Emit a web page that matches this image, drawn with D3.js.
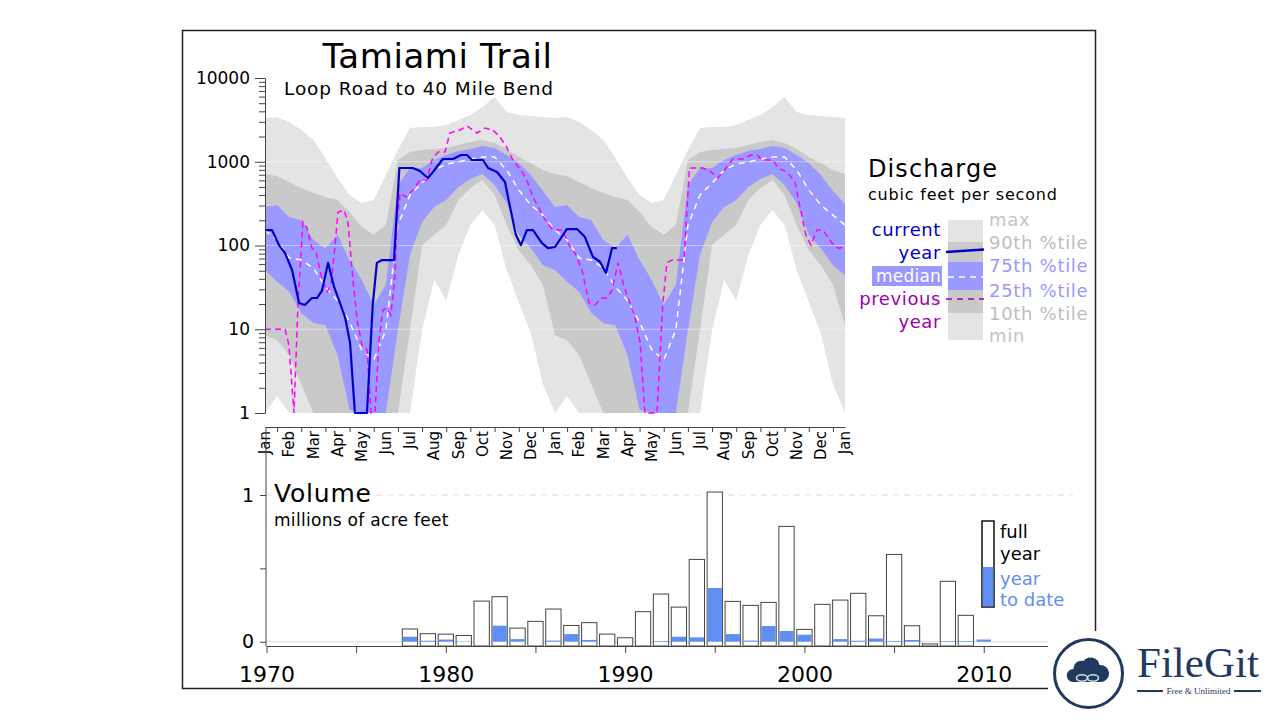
<!DOCTYPE html>
<html><head><meta charset="utf-8">
<script src="https://cdn.jsdelivr.net/npm/d3@7"></script>
<style>
html,body{margin:0;padding:0;background:#fff;}
</style></head>
<body><svg id="c" width="1280" height="720" font-family="DejaVu Sans, Verdana, sans-serif"></svg>
<script>
// ---------------- DATA ----------------
const monthLabels = ["Jan","Feb","Mar","Apr","May","Jun","Jul","Aug","Sep","Oct","Nov","Dec",
                     "Jan","Feb","Mar","Apr","May","Jun","Jul","Aug","Sep","Oct","Nov","Dec","Jan"];
// daily-flow statistics at half-month steps through one year (cfs); the chart repeats them for both years
const climMax    = [3330,3420,2980,2390,1820,1110,640,401,322,349,695,1380,2530,2600,2600,2750,3150,3615,4505,5930,3930,3615,3520,3420,3330];
const climP90    = [714,676,573,486,424,379,349,251,166,134,176,1049,1308,1382,1420,1460,1585,1721,1818,1675,1420,1140,966,797,714];
const climP75    = [288,304,219,202,116,93,134,67,39,19.5,34,528,842,842,1049,1204,1344,1420,1542,1460,1204,966,695,447,313];
const climMedian = [153,116,71,67,54,32,22,12.2,5.7,4.3,9.8,176,401,557,797,940,993,1079,1140,1140,797,460,304,231,176];
const climP25    = [51,37,28,15.6,11.9,11.2,4.9,1.09,1,1,1,9.8,77,191,288,349,499,622,714,528,322,134,93,58,44];
const climP10    = [8.5,7.4,4.9,2.2,1,1,1,1,1,1,1,1,9.8,101,134,176,349,486,605,401,176,88,58,34,11.2];
const climMin    = [1,1.6,1,1,1,1,1,1,1,1,1,1,1,9.8,39,22,77,176,265,176,51,21,9.0,2.2,1];

// current year: months since first Jan, cfs
const currentMonths = [0,0.29,0.58,0.83,1.12,1.41,1.65,1.94,2.15,2.36,2.61,2.86,3.10,3.31,3.52,3.72,4.22,4.46,4.63,4.84,5.34,5.56,6.12,6.41,6.74,6.95,7.36,7.78,8.11,8.36,8.56,9.02,9.23,9.60,9.93,10.14,10.38,10.59,10.84,11.09,11.46,11.71,12.0,12.49,12.91,13.24,13.57,13.86,14.11,14.36,14.56];
const currentValues = [153,153,101,81,51,20.6,19.5,23.6,23.6,29,62,32,20.6,14,6.9,1,1,20,62,67,67,842,842,776,640,755,1079,1079,1204,1204,1049,1049,842,755,573,288,134,101,153,153,107,93,96,157,157,126,73,64,47,93,93];

// previous year (first 12 months; afterwards it follows the current-year record)
const previousMonths = [0,0.83,0.99,1.20,1.37,1.57,1.74,1.94,2.11,2.32,2.57,2.73,2.90,3.02,3.27,3.43,3.64,3.81,4.01,4.22,4.39,4.55,4.72,4.88,5.05,5.21,5.38,5.46,5.59,5.83,6.12,6.41,6.70,6.91,7.16,7.45,7.65,8.07,8.36,8.77,9.10,9.43,9.72,9.97,10.26,10.67,10.88,11.09,11.38,11.67,11.92];
const previousValues = [10,10,6.5,1,22,191,162,93,84,44,28,34,101,251,265,191,39,12.9,6.5,5.7,1,1,7.4,17,18,14.8,44,186,424,379,460,605,605,1049,1308,1308,2205,2394,2672,2205,2530,2394,1977,1542,1049,735,557,379,265,186,153];

const logTicks = [1,10,100,1000,10000];

// annual volume (millions of acre feet)
const volumeYears = [1978,1979,1980,1981,1982,1983,1984,1985,1986,1987,1988,1989,1990,1991,1992,1993,1994,1995,1996,1997,1998,1999,2000,2001,2002,2003,2004,2005,2006,2007,2008,2009,2010];
const volumeFull  = [0.087,0.055,0.052,0.043,0.277,0.307,0.093,0.139,0.223,0.111,0.130,0.052,0.027,0.205,0.325,0.236,0.561,1.020,0.275,0.248,0.268,0.786,0.084,0.255,0.284,0.330,0.177,0.595,0.109,-0.015,0.412,0.180,null];
const volumeYTD   = [0.034,0.007,0.015,0.003,0,0.109,0.018,0,0.008,0.052,0.012,0,0,0,0.005,0.034,0.030,0.366,0.052,0.008,0.107,0.073,0.048,0,0.018,0.007,0.022,0.005,0.012,0,0.005,0.005,0.015];
const yearTicks = [1970,1975,1980,1985,1990,1995,2000,2005,2010];

// ---------------- STYLE ----------------
const C_LIGHT = "#e4e4e4", C_MID = "#c9c9c9", C_BLUE = "#9999ff";
const C_CUR = "#0000cc", C_PREV = "#ff00ff", C_PREVTXT = "#9c00b0";
const C_YTD = "#5f8ff5";

const svg = d3.select("#c");
const txt = (g, x, y, s, size, opts = {}) => {
  const t = g.append("text").attr("x", x).attr("y", y).attr("font-size", size).text(s);
  if (opts.anchor) t.attr("text-anchor", opts.anchor);
  if (opts.fill) t.attr("fill", opts.fill);
  if (opts.ls) t.attr("letter-spacing", opts.ls);
  return t;
};

// frame
svg.append("rect").attr("x",182.5).attr("y",30.5).attr("width",913).attr("height",658)
  .attr("fill","none").attr("stroke","#222").attr("stroke-width",1.5);

// ---------------- DISCHARGE ----------------
const xM = d3.scaleLinear().domain([0,24]).range([265,845]);
const yL = d3.scaleLog().domain([1,10000]).range([413,78]).clamp(true);

const half = climMax.length - 1; // 24 half-month steps per year
const clim = d3.range(0, 2*half + 1).map(k => {
  const j = k < half ? k : k - half;
  return {m: k/2, max: climMax[j], p90: climP90[j], p75: climP75[j], med: climMedian[j],
          p25: climP25[j], p10: climP10[j], min: climMin[j]};
});
const band = (lo, hi) => d3.area().x(d => xM(d.m)).y0(d => yL(d[lo])).y1(d => yL(d[hi]));
const gP = svg.append("g");
gP.append("path").datum(clim).attr("d", band("min","max")).attr("fill", C_LIGHT);
gP.append("path").datum(clim).attr("d", band("p10","p90")).attr("fill", C_MID);
gP.append("path").datum(clim).attr("d", band("p25","p75")).attr("fill", C_BLUE);

// faint decade gridlines
[10,100,1000].forEach(v => {
  gP.append("line").attr("x1", xM(0)).attr("x2", xM(24)).attr("y1", yL(v)).attr("y2", yL(v))
    .attr("stroke","#fff").attr("stroke-opacity",0.45).attr("stroke-width",1);
});

const line = d3.line().x(d => xM(d[0])).y(d => yL(d[1]));
// median
gP.append("path").datum(clim.map(d => [d.m, d.med])).attr("d", line)
  .attr("fill","none").attr("stroke","#fff").attr("stroke-width",1.5).attr("stroke-dasharray","6,5");
// previous year: its own record, then the current-year record one year later
const prevPts = previousMonths.map((m,i) => [m, previousValues[i]])
  .concat(currentMonths.map((m,i) => [m + 12, currentValues[i]]).filter(d => d[0] <= 24.001));
gP.append("path").datum(prevPts).attr("d", line)
  .attr("fill","none").attr("stroke",C_PREV).attr("stroke-width",1.5).attr("stroke-dasharray","6,4");
// current year
gP.append("path").datum(currentMonths.map((m,i) => [m, currentValues[i]])).attr("d", line)
  .attr("fill","none").attr("stroke",C_CUR).attr("stroke-width",2.2).attr("stroke-linejoin","round");

// log axis
const allLogTicks = [];
logTicks.forEach((t,i) => { allLogTicks.push(t); if (i < logTicks.length-1) for (let m=2;m<10;m++) allLogTicks.push(t*m); });
const yAx = svg.append("g").attr("transform","translate(265,0)")
  .call(d3.axisLeft(yL).tickValues(allLogTicks).tickSize(6).tickSizeOuter(0).tickPadding(9)
        .tickFormat(d => logTicks.includes(d) ? String(d) : ""));
yAx.attr("font-family", null);
yAx.selectAll(".tick line").attr("stroke","#444").attr("x2", d => logTicks.includes(d) ? -10 : -6);
yAx.select(".domain").attr("stroke","#444");
yAx.selectAll("text").attr("font-size",17).attr("fill","#000");

// month axis
const mAx = svg.append("g").attr("transform","translate(0,427)")
  .call(d3.axisBottom(xM).tickValues(d3.range(0.5,24,1)).tickSize(5).tickSizeOuter(0).tickFormat(""));
mAx.select(".domain").attr("stroke","#444");
mAx.selectAll(".tick line").attr("stroke","#444");
svg.append("g").selectAll("text").data(monthLabels).join("text")
  .attr("transform",(d,i) => `translate(${xM(i)},431) rotate(-90)`)
  .attr("text-anchor","end").attr("dy","0.35em").attr("font-size",15).attr("fill","#000").text(d => d);

// titles
txt(svg, 437.5, 68, "Tamiami Trail", 34, {anchor:"middle", ls:0.6});
txt(svg, 284, 95, "Loop Road to 40 Mile Bend", 18.5, {ls:0.9});

// legend (discharge)
const gL = svg.append("g");
txt(gL, 868, 177, "Discharge", 24, {ls:1.1});
txt(gL, 868, 200, "cubic feet per second", 16, {ls:0.8});
gL.append("rect").attr("x",948).attr("y",220).attr("width",35).attr("height",120).attr("fill",C_LIGHT);
gL.append("rect").attr("x",948).attr("y",242).attr("width",35).attr("height",71).attr("fill",C_MID);
gL.append("rect").attr("x",948).attr("y",262).attr("width",35).attr("height",28).attr("fill",C_BLUE);
gL.append("line").attr("x1",946).attr("y1",252).attr("x2",984).attr("y2",249.5).attr("stroke",C_CUR).attr("stroke-width",2.5);
gL.append("line").attr("x1",948).attr("y1",277).attr("x2",984).attr("y2",277).attr("stroke","#fff").attr("stroke-width",1.5).attr("stroke-dasharray","6,5");
gL.append("line").attr("x1",946).attr("y1",299).attr("x2",984).attr("y2",299).attr("stroke",C_PREVTXT).attr("stroke-width",1.5).attr("stroke-dasharray","6,5");
gL.append("rect").attr("x",872).attr("y",266).attr("width",70).attr("height",20).attr("fill",C_BLUE);
[["current",236,C_CUR,18,0.6],["year",259,C_CUR,18,0.6],["median",282,"#fff",17,0.2],["previous",305,C_PREVTXT,18,0.6],["year",328,C_PREVTXT,18,0.6]]
  .forEach(d => txt(gL, 941, d[1], d[0], d[3], {anchor:"end", fill:d[2], ls:d[4]}));
[["max",226,"#c4c4c4"],["90th %tile",249,"#bdbdbd"],["75th %tile",272,C_BLUE],["25th %tile",297,C_BLUE],["10th %tile",320,"#bdbdbd"],["min",342,"#c4c4c4"]]
  .forEach(d => txt(gL, 989, d[1], d[0], 18, {fill:d[2], ls:0.7}));

// ---------------- VOLUME ----------------
const xY = d3.scaleLinear().domain([1970,2015]).range([266.5,1073.4]);
const yV = d3.scaleLinear().domain([-0.029,1]).range([646,495]);

svg.append("line").attr("x1",266).attr("x2",1073).attr("y1",yV(1)).attr("y2",yV(1))
  .attr("stroke","#ddd").attr("stroke-dasharray","6,5");
svg.append("line").attr("x1",266).attr("x2",1073).attr("y1",yV(0)).attr("y2",yV(0)).attr("stroke","#ddd");

const bw = 15.3;
const vol = volumeYears.map((y,i) => ({y, full: volumeFull[i], ytd: volumeYTD[i]}));
const gB = svg.append("g");
gB.selectAll("rect.full").data(vol.filter(d => d.full !== null)).join("rect").attr("class","full")
  .attr("x", d => xY(d.y) - bw/2).attr("width", bw)
  .attr("y", d => yV(d.full)).attr("height", d => yV.range()[0] - yV(d.full))
  .attr("fill","#fff").attr("stroke","#444").attr("stroke-width",1);
gB.selectAll("rect.ytd").data(vol.filter(d => d.ytd > 0)).join("rect").attr("class","ytd")
  .attr("x", d => xY(d.y) - bw/2 + 0.5).attr("width", bw - 1)
  .attr("y", d => yV(d.ytd)).attr("height", d => yV(0) - yV(d.ytd))
  .attr("fill", C_YTD);

const vyAx = svg.append("g").attr("transform","translate(266,0)")
  .call(d3.axisLeft(yV).tickValues([0,0.5,1]).tickSize(6).tickSizeOuter(0).tickPadding(6)
        .tickFormat(d => d === 0.5 ? "" : String(d)));
vyAx.attr("font-family", null);
vyAx.select(".domain").remove();
vyAx.selectAll(".tick line").attr("stroke","#444");
vyAx.selectAll("text").attr("font-size",19).attr("fill","#000");
svg.append("line").attr("x1",266).attr("x2",266).attr("y1",427).attr("y2",646).attr("stroke","#444");

const vxAx = svg.append("g").attr("transform","translate(0,646)")
  .call(d3.axisBottom(xY).tickValues(yearTicks).tickSize(7).tickSizeOuter(0).tickPadding(13)
        .tickFormat(d => d % 10 === 0 ? String(d) : ""));
vxAx.attr("font-family", null);
vxAx.select(".domain").attr("stroke","#444");
vxAx.selectAll(".tick line").attr("stroke","#444");
vxAx.selectAll("text").attr("font-size",22).attr("fill","#000");

txt(svg, 274, 502, "Volume", 25, {ls:0.8});
txt(svg, 274, 526, "millions of acre feet", 17, {ls:0.3});

// volume legend
svg.append("rect").attr("x",982).attr("y",521).attr("width",12).attr("height",86).attr("fill","#fff").attr("stroke","#111").attr("stroke-width",1.5);
svg.append("rect").attr("x",982.75).attr("y",567).attr("width",10.5).attr("height",39.25).attr("fill",C_YTD);
[["full",538,"#000"],["year",560,"#000"],["year",585,C_YTD],["to date",606,C_YTD]].forEach(d =>
  txt(svg, 1000, d[1], d[0], 18, {fill:d[2]}));

// ---------------- watermark ----------------
const gW = svg.append("g");
gW.append("rect").attr("x",1048).attr("y",631).attr("width",232).attr("height",89).attr("fill","#fff");
const navy = "#1f3a5e";
gW.append("circle").attr("cx",1088.5).attr("cy",673.5).attr("r",34).attr("fill","#fff").attr("stroke",navy).attr("stroke-width",3);
gW.append("path").attr("d","M1073,682 a6.5,6.5 0 0 1 0.5,-13 a8,8 0 0 1 10,-8 a9,9 0 0 1 16,4 a7,7 0 0 1 2,17 z").attr("fill",navy);
gW.append("ellipse").attr("cx",1082).attr("cy",678).attr("rx",5.5).attr("ry",3.2).attr("fill","none").attr("stroke","#d5dbe3").attr("stroke-width",1.6);
gW.append("ellipse").attr("cx",1093).attr("cy",678).attr("rx",5.5).attr("ry",3.2).attr("fill","none").attr("stroke","#d5dbe3").attr("stroke-width",1.6);
gW.append("text").attr("x",1137).attr("y",677).attr("font-size",43).attr("font-family","Liberation Serif").attr("fill",navy).text("FileGit");
gW.append("text").attr("x",1198.5).attr("y",694).attr("text-anchor","middle").attr("font-size",9).attr("font-family","Liberation Serif").attr("fill",navy).text("Free & Unlimited");
gW.append("line").attr("x1",1137).attr("x2",1163).attr("y1",691).attr("y2",691).attr("stroke",navy).attr("stroke-width",2);
gW.append("line").attr("x1",1234).attr("x2",1261).attr("y1",691).attr("y2",691).attr("stroke",navy).attr("stroke-width",2);
</script>
</body></html>
